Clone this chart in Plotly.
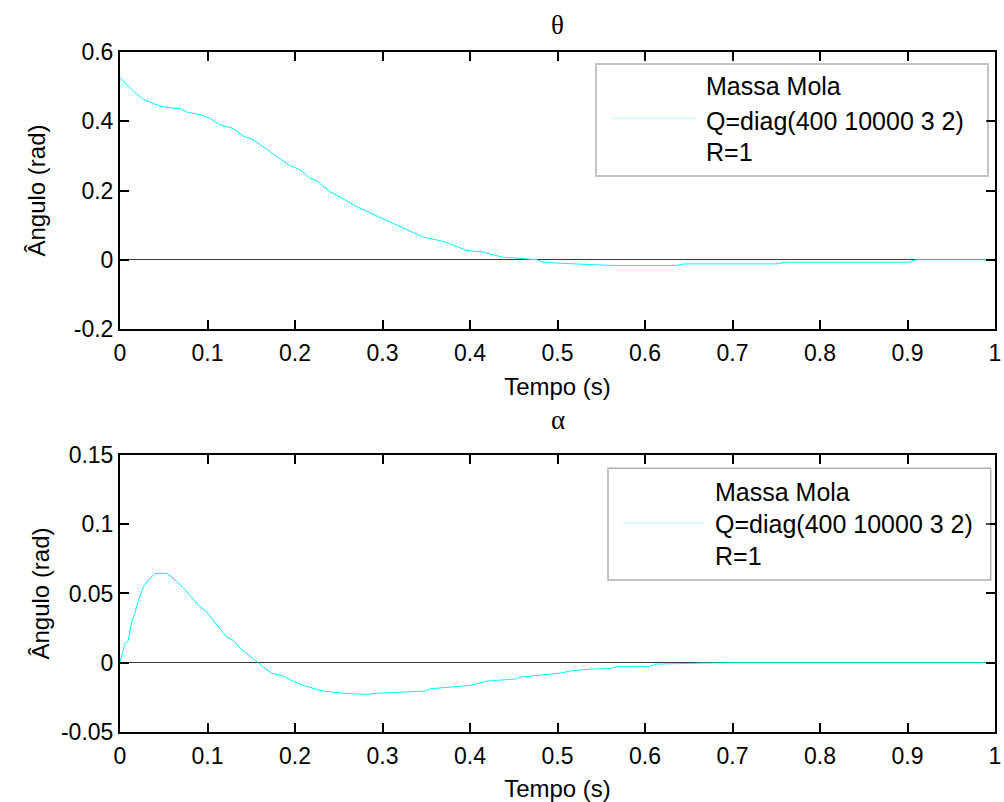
import plotly.graph_objects as go
from plotly.subplots import make_subplots

# ---- data ----
theta_t = [0, 0.0057, 0.0134, 0.019, 0.0267, 0.034, 0.0457, 0.057, 0.0686, 0.076, 0.0914,
           0.103, 0.114, 0.1295, 0.141, 0.152, 0.168, 0.194, 0.206, 0.217, 0.225, 0.24,
           0.274, 0.312, 0.347, 0.37, 0.396, 0.415, 0.438, 0.453, 0.476, 0.484, 0.503,
           0.564, 0.636, 0.644, 0.75, 0.762, 0.903, 0.909, 1.0]
theta = [0.525, 0.511, 0.492, 0.479, 0.463, 0.456, 0.444, 0.439, 0.437, 0.427, 0.419,
         0.408, 0.390, 0.379, 0.357, 0.347, 0.318, 0.272, 0.260, 0.236, 0.228, 0.197,
         0.149, 0.105, 0.065, 0.053, 0.027, 0.022, 0.007, 0.005, 0.0, -0.007, -0.01,
         -0.0165, -0.0165, -0.012, -0.012, -0.007, -0.007, 0.0, 0.0]

alpha_t = [0, 0.0057, 0.0095, 0.0134, 0.017, 0.021, 0.0267, 0.0324, 0.04, 0.0533, 0.059,
           0.0724, 0.0895, 0.099, 0.122, 0.1295, 0.1371, 0.152, 0.1638, 0.1733, 0.1867,
           0.196, 0.2095, 0.232, 0.255, 0.282, 0.293, 0.324, 0.349, 0.354, 0.381, 0.40,
           0.419, 0.453, 0.457, 0.503, 0.516, 0.537, 0.56, 0.568, 0.606, 0.611, 0.663,
           0.7, 1.0]
alpha = [0, 0.0138, 0.0162, 0.0295, 0.0355, 0.0452, 0.0549, 0.0597, 0.0645, 0.0645, 0.0621,
         0.0541, 0.0416, 0.0367, 0.0186, 0.0162, 0.0107, 0.0029, -0.0031, -0.0075, -0.0096,
         -0.0128, -0.0164, -0.0205, -0.022, -0.0229, -0.022, -0.0212, -0.0205, -0.0188,
         -0.0176, -0.0164, -0.0133, -0.0116, -0.0104, -0.0075, -0.0058, -0.0046, -0.0041,
         -0.0029, -0.0027, -0.001, -0.0003, 0.0, 0.0]

x_ticks = [0, 0.1, 0.2, 0.3, 0.4, 0.5, 0.6, 0.7, 0.8, 0.9, 1]
x_ticktext = ["0", "0.1", "0.2", "0.3", "0.4", "0.5", "0.6", "0.7", "0.8", "0.9", "1"]
y1_ticks = [-0.2, 0, 0.2, 0.4, 0.6]
y1_ticktext = ["-0.2", "0", "0.2", "0.4", "0.6"]
y2_ticks = [-0.05, 0, 0.05, 0.1, 0.15]
y2_ticktext = ["-0.05", "0", "0.05", "0.1", "0.15"]

titles = ["θ", "α"]
legend_lines = ["Massa Mola", "Q=diag(400 10000 3 2)", "R=1"]
x_title = "Tempo (s)"
y_title = "Ângulo (rad)"

CYAN = "#00FFFF"
SANS = "Liberation Sans, Arial, sans-serif"
SERIF = "Liberation Serif, Times New Roman, serif"

fig = make_subplots(rows=2, cols=1, vertical_spacing=0.1852)
fig.add_trace(go.Scatter(x=theta_t, y=theta, mode="lines", line=dict(color=CYAN, width=1),
                         showlegend=False), row=1, col=1)
fig.add_trace(go.Scatter(x=alpha_t, y=alpha, mode="lines", line=dict(color=CYAN, width=1),
                         showlegend=False), row=2, col=1)

TICKFONT = dict(family=SANS, size=23, color="black")
TITLEFONT = dict(family=SANS, size=24, color="black")

for r in (1, 2):
    fig.update_xaxes(range=[0, 1], tickvals=x_ticks, ticktext=x_ticktext, zeroline=False,
                     showline=True, linecolor="black", linewidth=2, mirror="ticks",
                     ticks="inside", ticklen=9, tickcolor="black", tickwidth=1.5,
                     showgrid=False, tickfont=TICKFONT, ticklabelstandoff=2,
                     automargin=False,
                     title=dict(text=x_title, font=TITLEFONT, standoff=14),
                     row=r, col=1)
fig.update_yaxes(range=[-0.2, 0.6], tickvals=y1_ticks, ticktext=y1_ticktext,
                 title=dict(text=y_title, font=TITLEFONT, standoff=21),
                 row=1, col=1)
fig.update_yaxes(range=[-0.05, 0.15], tickvals=y2_ticks, ticktext=y2_ticktext,
                 title=dict(text=y_title, font=TITLEFONT, standoff=5),
                 row=2, col=1)
for r in (1, 2):
    fig.update_yaxes(zeroline=True, zerolinecolor="#3a3a3a", zerolinewidth=1,
                     showline=True, linecolor="black", linewidth=2, mirror="ticks",
                     ticks="inside", ticklen=9, tickcolor="black", tickwidth=1.5,
                     showgrid=False, tickfont=TICKFONT, automargin=False,
                     row=r, col=1)

# titles
shifts = [27, 35]
for i, (ttl, yr) in enumerate(zip(titles, ["y domain", "y2 domain"])):
    fig.add_annotation(text=ttl, xref="x domain" if i == 0 else "x2 domain", yref=yr,
                       x=0.5, y=1, yshift=shifts[i], yanchor="middle", showarrow=False,
                       font=dict(family=SERIF, size=27, color="black"))

# legend boxes (drawn like the original MATLAB legend)
leg = [
    dict(xr="x domain", yr="y domain", box=(0.544, 0.5523, 0.992, 0.9567),
         line=(0.5634, 0.6583, 0.7606), tx=0.6674, ty=[0.8773, 0.7509, 0.639]),
    dict(xr="x2 domain", yr="y2 domain", box=(0.5577, 0.5487, 0.9951, 0.952),
         line=(0.5745, 0.6674, 0.7534), tx=0.6774, ty=[0.8664, 0.751, 0.6354]),
]
for L in leg:
    x0, y0, x1, y1 = L["box"]
    fig.add_shape(type="rect", xref=L["xr"], yref=L["yr"], x0=x0, y0=y0, x1=x1, y1=y1,
                  line=dict(color="black", width=1.5), fillcolor="white", layer="above")
    lx0, lx1, ly = L["line"]
    fig.add_shape(type="line", xref=L["xr"], yref=L["yr"], x0=lx0, x1=lx1, y0=ly, y1=ly,
                  line=dict(color=CYAN, width=1), layer="above")
    for txt, ty in zip(legend_lines, L["ty"]):
        fig.add_annotation(text=txt, xref=L["xr"], yref=L["yr"], x=L["tx"], y=ty,
                           xanchor="left", yanchor="middle", showarrow=False,
                           font=dict(family=SANS, size=25, color="black"))

fig.update_layout(template="simple_white", width=1004, height=802,
                  margin=dict(l=120, r=9, t=52, b=70),
                  paper_bgcolor="white", plot_bgcolor="white", showlegend=False)

fig.write_html("out.html", config={"displayModeBar": False},
               post_script="document.body.style.margin='0';document.body.style.overflow='hidden';")
